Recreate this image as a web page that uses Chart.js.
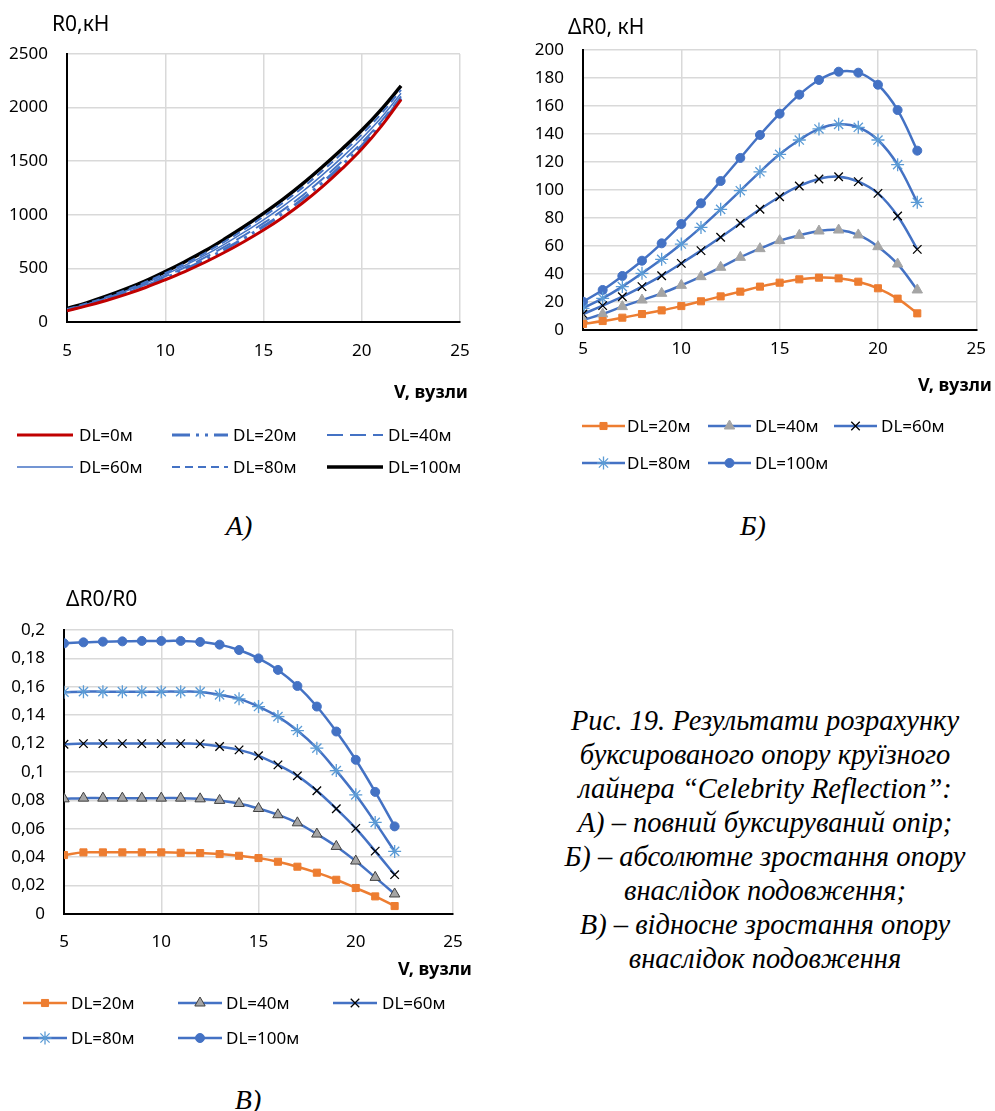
<!DOCTYPE html>
<html lang="uk">
<head>
<meta charset="utf-8">
<title>Рис. 19</title>
<script src="https://cdn.jsdelivr.net/npm/chart.js@4.4.1/dist/chart.umd.min.js"></script>
<style>
  html, body { margin: 0; padding: 0; background: #fff; }
  body { width: 995px; height: 1111px; position: relative; overflow: hidden; }
  canvas { position: absolute; }
  #chartA { left: 0; top: 0; }
  #chartB { left: 497px; top: 0; }
  #chartC { left: 0; top: 575px; }
  .sub { position: absolute; width: 60px; text-align: center; line-height: 30px;
         font: italic 28px "Liberation Serif", "Times New Roman", serif; color: #000; }
  #caption { position: absolute; left: 520px; top: 704px; width: 490px; text-align: center;
             white-space: nowrap; font: italic 28.5px/34px "Liberation Serif", "Times New Roman", serif; color: #000; }
</style>
</head>
<body>
<canvas id="chartA" width="495" height="495"></canvas>
<canvas id="chartB" width="498" height="495"></canvas>
<canvas id="chartC" width="495" height="490"></canvas>

<div class="sub" style="left:209px; top:510px;">А)</div>
<div class="sub" style="left:723px; top:510px;">Б)</div>
<div class="sub" style="left:218px; top:1084px;">В)</div>

<div id="caption">
  Рис. 19. Результати розрахунку<br>
  буксированого опору круїзного<br>
  лайнера “Celebrity Reflection”:<br>
  А) – повний буксируваний опір;<br>
  Б) – абсолютне зростання опору<br>
  внаслідок подовження;<br>
  В) – відносне зростання опору<br>
  внаслідок подовження
</div>

<script>
// Швидкість, вузли
const speeds = [5, 6, 7, 8, 9, 10, 11, 12, 13, 14, 15, 16, 17, 18, 19, 20, 21, 22];

// А) повний буксируваний опір R0, кН
const r0_dl0   = [105, 150, 201, 258, 322, 394, 471, 555, 648, 749, 858, 978, 1112, 1263, 1430, 1613, 1827, 2075];
const r0_dl20  = [109, 156, 210, 269, 336, 411, 491, 579, 675, 780, 892, 1014, 1149, 1300, 1465, 1643, 1849, 2087];
const r0_dl40  = [112, 161, 218, 279, 348, 426, 509, 600, 700, 807, 922, 1046, 1183, 1334, 1498, 1673, 1874, 2104];
const r0_dl60  = [116, 167, 225, 289, 361, 442, 528, 621, 724, 835, 953, 1081, 1220, 1373, 1536, 1711, 1908, 2133];
const r0_dl80  = [121, 173, 232, 299, 373, 455, 544, 641, 748, 862, 984, 1114, 1256, 1410, 1575, 1749, 1945, 2166];
const r0_dl100 = [125, 179, 240, 308, 384, 470, 562, 661, 771, 888, 1013, 1146, 1291, 1448, 1614, 1788, 1984, 2203];

// Б) абсолютне зростання опору ΔR0, кН
const dr_dl20  = [4.3, 6.4, 8.8, 11.4, 14, 17.1, 20.5, 24, 27.4, 31, 33.8, 36.2, 37.4, 36.9, 34.5, 29.8, 22.4, 11.9];
const dr_dl40  = [7.1, 11.4, 16.7, 21.4, 26.2, 31.9, 38.1, 44.8, 51.9, 58.1, 63.8, 67.6, 70.7, 71.4, 67.9, 59.5, 47.1, 28.6];
const dr_dl60  = [11.4, 17.4, 23.8, 31, 38.8, 47.6, 56.7, 66.2, 76.2, 86.2, 95.2, 102.9, 107.9, 109.5, 106, 97.6, 81.4, 57.6];
const dr_dl80  = [15.5, 22.6, 31, 40.5, 50.5, 61.4, 73.3, 86.2, 99.5, 113, 125.5, 135.7, 143.6, 146.9, 144.8, 135.7, 118.1, 91.2];
const dr_dl100 = [20.2, 28.6, 38.6, 49.5, 61.9, 75.7, 90.5, 106.4, 122.9, 139.3, 154.5, 168.1, 178.6, 184.5, 183.8, 175.2, 157.1, 128.1];

// В) відносне зростання опору ΔR0/R0
const rel_dl20  = [0.0415, 0.0434, 0.0434, 0.0434, 0.0434, 0.0434, 0.0431, 0.0429, 0.0422, 0.041, 0.0394, 0.0368, 0.0333, 0.0291, 0.0241, 0.0183, 0.0124, 0.0056];
const rel_dl40  = [0.0811, 0.0816, 0.0816, 0.0816, 0.0816, 0.0816, 0.0816, 0.0811, 0.08, 0.0778, 0.0743, 0.0699, 0.0642, 0.0563, 0.0476, 0.0373, 0.0258, 0.0141];
const rel_dl60  = [0.1195, 0.12, 0.12, 0.12, 0.12, 0.12, 0.12, 0.1198, 0.118, 0.1156, 0.1114, 0.105, 0.0973, 0.0868, 0.0741, 0.0603, 0.0443, 0.0277];
const rel_dl80  = [0.1562, 0.1566, 0.1566, 0.1566, 0.1566, 0.1566, 0.1566, 0.1564, 0.1543, 0.1515, 0.1461, 0.139, 0.1292, 0.1168, 0.101, 0.0839, 0.0645, 0.0441];
const rel_dl100 = [0.1906, 0.1913, 0.1918, 0.192, 0.1923, 0.1923, 0.1923, 0.1916, 0.1897, 0.1859, 0.18, 0.1719, 0.1606, 0.1461, 0.1285, 0.1086, 0.086, 0.0617];

const FONT = "'Noto Sans', 'DejaVu Sans', sans-serif";
const BLUE = "#4472C4";
const ORANGE = "#ED7D31";
const GRAY = "#A5A5A5";
const LIGHTBLUE = "#5B9BD5";

Chart.defaults.font.family = FONT;
Chart.defaults.font.size = 17;
Chart.defaults.color = "#000";

const toPoints = (ys) => speeds.map((x, i) => ({ x, y: ys[i] }));

// Підписи осей та легенда у стилі Excel (рядки по три елементи)
function decorPlugin(cfg) {
  return {
    id: "decor",
    afterDraw(chart) {
      const ctx = chart.ctx;
      ctx.save();
      ctx.fillStyle = "#000";
      ctx.textBaseline = "middle";

      ctx.font = `21px ${FONT}`;
      ctx.textAlign = "left";
      ctx.fillText(cfg.yTitle, cfg.yTitleX, cfg.yTitleY);

      ctx.font = `bold 18px ${FONT}`;
      ctx.textAlign = "right";
      ctx.fillText(cfg.xTitle, cfg.xTitleX, cfg.xTitleY);

      ctx.font = `17px ${FONT}`;
      ctx.textAlign = "left";
      chart.data.datasets.forEach((ds, i) => {
        const y = cfg.rows[Math.floor(i / 3)];
        const col = i % 3;
        const x0 = cfg.cols[col];
        const x1 = x0 + cfg.lineLen;

        ctx.save();
        ctx.strokeStyle = ds.borderColor;
        ctx.lineWidth = ds.borderWidth;
        ctx.setLineDash(ds.borderDash || []);
        ctx.beginPath();
        ctx.moveTo(x0, y);
        ctx.lineTo(x1, y);
        ctx.stroke();
        ctx.restore();

        if (ds.pointRadius > 0) {
          ctx.save();
          ctx.fillStyle = ds.pointBackgroundColor;
          ctx.strokeStyle = ds.pointBorderColor;
          ctx.lineWidth = ds.pointBorderWidth;
          Chart.helpers.drawPoint(ctx, {
            pointStyle: ds.pointStyle,
            radius: ds.pointRadius,
            rotation: 0,
            borderWidth: ds.pointBorderWidth
          }, (x0 + x1) / 2, y);
          ctx.restore();
        }

        ctx.fillStyle = "#000";
        ctx.fillText(ds.label, cfg.texts[col], y + 1);
      });
      ctx.restore();
    }
  };
}

function xAxis(height, pad) {
  return {
    type: "linear",
    min: 5,
    max: 25,
    ticks: { stepSize: 5, padding: pad },
    grid: { color: "#D9D9D9", lineWidth: 1.5, drawTicks: false },
    border: { color: "#000", width: 2 },
    afterFit(scale) { scale.height = height; }
  };
}

function yAxis(width, max, step, fmt) {
  return {
    min: 0,
    max: max,
    ticks: { stepSize: step, padding: 19, callback: fmt },
    grid: { color: "#D9D9D9", lineWidth: 1.5, drawTicks: false },
    border: { color: "#000", width: 2 },
    afterFit(scale) { scale.width = width; }
  };
}

const baseOptions = {
  responsive: false,
  animation: false,
  events: [],
  elements: { line: { tension: 0.4 } },
  plugins: { legend: { display: false }, tooltip: { enabled: false } }
};

// Набір серій з маркерами (графіки Б і В)
function markerSeries(d20, d40, d60, d80, d100, triBorder) {
  return [
    { label: "DL=20м", data: toPoints(d20), borderColor: ORANGE, borderWidth: 2.5,
      pointStyle: "rect", pointRadius: 5, pointBackgroundColor: ORANGE, pointBorderColor: ORANGE, pointBorderWidth: 1 },
    { label: "DL=40м", data: toPoints(d40), borderColor: BLUE, borderWidth: 2.5,
      pointStyle: "triangle", pointRadius: 6, pointBackgroundColor: GRAY, pointBorderColor: triBorder, pointBorderWidth: 1 },
    { label: "DL=60м", data: toPoints(d60), borderColor: BLUE, borderWidth: 2.5,
      pointStyle: "crossRot", pointRadius: 6, pointBackgroundColor: "#000", pointBorderColor: "#000", pointBorderWidth: 1.3 },
    { label: "DL=80м", data: toPoints(d80), borderColor: BLUE, borderWidth: 2.5,
      pointStyle: "star", pointRadius: 6.5, pointBackgroundColor: LIGHTBLUE, pointBorderColor: LIGHTBLUE, pointBorderWidth: 1.3 },
    { label: "DL=100м", data: toPoints(d100), borderColor: BLUE, borderWidth: 2.5,
      pointStyle: "circle", pointRadius: 4.5, pointBackgroundColor: BLUE, pointBorderColor: BLUE, pointBorderWidth: 1 }
  ];
}

// А) Повний буксируваний опір
new Chart(document.getElementById("chartA"), {
  type: "line",
  data: {
    datasets: [
      { label: "DL=0м", data: toPoints(r0_dl0), borderColor: "#C00000", borderWidth: 3, pointRadius: 0 },
      { label: "DL=20м", data: toPoints(r0_dl20), borderColor: BLUE, borderWidth: 3, borderDash: [18, 6, 3, 6, 3, 6], pointRadius: 0 },
      { label: "DL=40м", data: toPoints(r0_dl40), borderColor: BLUE, borderWidth: 2, borderDash: [16, 7], pointRadius: 0 },
      { label: "DL=60м", data: toPoints(r0_dl60), borderColor: BLUE, borderWidth: 1.5, pointRadius: 0 },
      { label: "DL=80м", data: toPoints(r0_dl80), borderColor: BLUE, borderWidth: 2, borderDash: [8, 5], pointRadius: 0 },
      { label: "DL=100м", data: toPoints(r0_dl100), borderColor: "#000", borderWidth: 3.5, pointRadius: 0 }
    ]
  },
  options: {
    ...baseOptions,
    layout: { padding: { left: 0, top: 54, right: 35, bottom: 0 } },
    scales: {
      x: xAxis(495 - 322, 19),
      y: yAxis(67, 2500, 500)
    }
  },
  plugins: [decorPlugin({
    yTitle: "R0,кН", yTitleX: 52, yTitleY: 25,
    xTitle: "V, вузли", xTitleX: 468, xTitleY: 393,
    rows: [435, 467], cols: [17, 172, 327], lineLen: 56, texts: [79, 233, 388]
  })]
});

// Б) Абсолютне зростання опору
new Chart(document.getElementById("chartB"), {
  type: "line",
  data: { datasets: markerSeries(dr_dl20, dr_dl40, dr_dl60, dr_dl80, dr_dl100, GRAY) },
  options: {
    ...baseOptions,
    layout: { padding: { left: 0, top: 50, right: 17, bottom: 0 } },
    scales: {
      x: xAxis(495 - 330, 9),
      y: yAxis(86, 200, 20)
    }
  },
  plugins: [decorPlugin({
    yTitle: "ΔR0, кН", yTitleX: 71, yTitleY: 28,
    xTitle: "V, вузли", xTitleX: 495, xTitleY: 386,
    rows: [426, 463], cols: [85, 211, 337], lineLen: 43, texts: [130, 258, 384]
  })]
});

// В) Відносне зростання опору
const commaFmt = (v) => String(Math.round(v * 100) / 100).replace(".", ",");
new Chart(document.getElementById("chartC"), {
  type: "line",
  data: { datasets: markerSeries(rel_dl20, rel_dl40, rel_dl60, rel_dl80, rel_dl100, "#404040") },
  options: {
    ...baseOptions,
    layout: { padding: { left: 0, top: 55, right: 42, bottom: 0 } },
    scales: {
      x: xAxis(490 - 339, 18),
      y: yAxis(64, 0.2, 0.02, commaFmt)
    }
  },
  plugins: [decorPlugin({
    yTitle: "ΔR0/R0", yTitleX: 66, yTitleY: 25,
    xTitle: "V, вузли", xTitleX: 472, xTitleY: 395,
    rows: [428, 463], cols: [23, 178, 333], lineLen: 44, texts: [71, 226, 382]
  })]
});
</script>
</body>
</html>
